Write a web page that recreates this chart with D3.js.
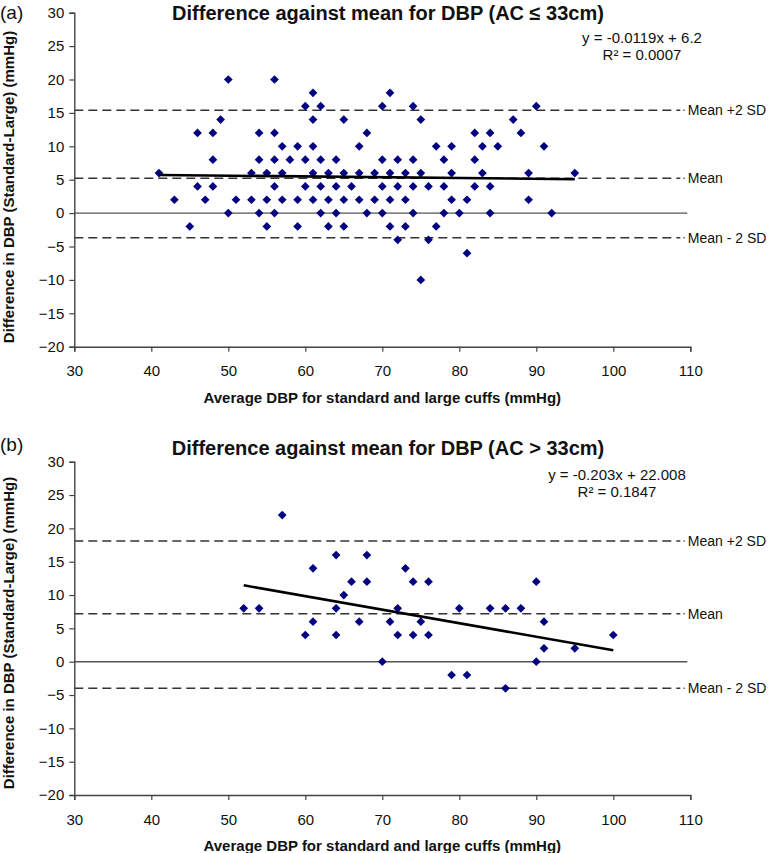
<!DOCTYPE html>
<html><head><meta charset="utf-8">
<script src="https://cdn.jsdelivr.net/npm/d3@7"></script>
<style>body{margin:0;background:#fff}svg{display:block}</style></head>
<body><svg id="c" width="768" height="853"></svg>
<script>
const xTicks = [30, 40, 50, 60, 70, 80, 90, 100, 110];
const yTicks = [-20, -15, -10, -5, 0, 5, 10, 15, 20, 25, 30];
const titles = ["Difference against mean for DBP (AC \u2264 33cm)", "Difference against mean for DBP (AC > 33cm)"];
const panelLabels = ["(a)", "(b)"];
const equations = ["y = -0.0119x + 6.2", "y = -0.203x + 22.008"];
const rSquared = ["R\u00b2 = 0.0007", "R\u00b2 = 0.1847"];
const slopes = [-0.0119, -0.203];
const intercepts = [6.2, 22.008];
const fitRanges = [[41, 95], [52, 100]];
const limitLabels = ["Mean +2 SD", "Mean", "Mean - 2 SD"];
const limitsA = [15.4, 5.2, -3.7];
const limitsB = [18.1, 7.2, -4.0];
const xTitle = "Average DBP for standard and large cuffs (mmHg)";
const yTitle = "Difference in DBP (Standard-Large) (mmHg)";

const pointsA = [
 [41,6],[43,2],[45,-2],[46,12],[46,4],[47,2],[48,12],[48,8],[48,4],[49,14],[50,20],[50,0],[51,2],[53,6],[53,2],[54,12],[54,8],[54,0],[55,6],[55,2],[55,-2],
 [56,20],[56,12],[56,8],[56,4],[56,0],
 [57,10],[57,6],[57,2],[58,8],[59,10],[59,2],[59,-2],
 [60,16],[60,8],[60,4],[61,18],[61,14],[61,10],[61,6],[61,2],
 [62,16],[62,8],[62,4],[62,0],[63,6],[63,2],[63,-2],
 [64,8],[64,4],[64,0],[65,14],[65,6],[65,2],[65,-2],[66,4],
 [67,10],[67,6],[67,2],[68,12],[68,0],[69,6],[69,2],
 [70,16],[70,8],[70,4],[70,0],[71,18],[71,6],[71,2],[71,-2],
 [72,8],[72,4],[72,-4],[73,6],[73,2],[73,-2],
 [74,16],[74,8],[74,4],[74,0],[75,14],[75,6],[75,-10],
 [76,4],[76,-4],[77,10],[77,-2],[78,8],[78,4],[78,0],
 [79,10],[79,6],[79,2],[80,0],[81,2],[81,-6],
 [82,12],[82,8],[82,4],[83,10],[83,6],[84,12],[84,4],[84,0],
 [85,10],[87,14],[88,12],[89,6],[89,2],[90,16],[91,10],[92,0],[95,6]
];
const pointsB = [
 [52,8],[54,8],[57,22],[60,4],[61,14],[61,6],[64,16],[64,8],[64,4],[65,10],[66,12],[67,6],[68,16],[68,12],
 [70,0],[71,6],[72,8],[72,4],[73,14],[74,12],[74,4],[75,6],[76,12],[76,4],
 [79,-2],[80,8],[81,-2],[84,8],[86,8],[86,-4],[88,8],[90,12],[90,0],[91,6],[91,2],[95,2],[100,4]
];

const svg = d3.select("#c");
const FONT = "'Liberation Sans', Arial, sans-serif";
const L = 74.3, R = 690.3;

const panels = [
  {top: 12.7, bottom: 346.7, pts: pointsA, limits: limitsA, titleY: 20, labelY: 19, eqX: 642, eqY: 43, yTitleY: 187},
  {top: 461.7, bottom: 795, pts: pointsB, limits: limitsB, titleY: 455, labelY: 451, eqX: 617, eqY: 480, yTitleY: 633}
];

panels.forEach((p, i) => {
  const x = d3.scaleLinear().domain([30, 110]).range([L, R]);
  const y = d3.scaleLinear().domain([-20, 30]).range([p.bottom, p.top]);
  const g = svg.append("g");

  // zero line
  g.append("line").attr("x1", L).attr("x2", R - 3).attr("y1", y(0)).attr("y2", y(0))
    .attr("stroke", "#555").attr("stroke-width", 1.4);

  // limit lines
  p.limits.forEach((v, k) => {
    g.append("line").attr("x1", L).attr("x2", R - 10).attr("y1", y(v)).attr("y2", y(v))
      .attr("stroke", "#333").attr("stroke-width", 1.5).attr("stroke-dasharray", "9,5");
    g.append("line").attr("x1", R - 7).attr("x2", R - 5.5).attr("y1", y(v)).attr("y2", y(v))
      .attr("stroke", "#666").attr("stroke-width", 1.5);
    g.append("text").attr("x", R - 2.5).attr("y", y(v)).attr("dy", "0.36em")
      .attr("font-family", FONT).attr("font-size", 14).attr("fill", "#111")
      .text(limitLabels[k]);
  });

  // axes
  const ya = g.append("g").attr("transform", `translate(${L},0)`)
    .call(d3.axisLeft(y).tickValues(yTicks).tickSize(5).tickPadding(5).tickFormat(d => d < 0 ? "\u2212" + Math.abs(d) : d));
  const xa = g.append("g").attr("transform", `translate(0,${p.bottom})`)
    .call(d3.axisBottom(x).tickValues(xTicks).tickSize(5).tickPadding(14));
  [ya, xa].forEach(a => {
    a.select(".domain").attr("stroke", "#444").attr("stroke-width", 1.4);
    a.selectAll(".tick line").attr("stroke", "#444").attr("stroke-width", 1.2);
    a.selectAll(".tick text").attr("font-family", FONT).attr("font-size", 15).attr("fill", "#111");
  });

  // points
  g.selectAll("path.pt").data(p.pts).join("path").attr("class", "pt")
    .attr("d", d3.symbol(d3.symbolSquare, 38))
    .attr("transform", d => `translate(${x(d[0])},${y(d[1])}) rotate(45)`)
    .attr("fill", "#000080");

  // regression line
  const fx = fitRanges[i];
  g.append("line")
    .attr("x1", x(fx[0])).attr("y1", y(slopes[i] * fx[0] + intercepts[i]))
    .attr("x2", x(fx[1])).attr("y2", y(slopes[i] * fx[1] + intercepts[i]))
    .attr("stroke", "#000").attr("stroke-width", 2.6);

  // texts
  g.append("text").attr("x", 388).attr("y", p.titleY).attr("text-anchor", "middle")
    .attr("font-family", FONT).attr("font-size", 20).attr("font-weight", "bold").attr("fill", "#111")
    .text(titles[i]);
  g.append("text").attr("x", 0).attr("y", p.labelY)
    .attr("font-family", FONT).attr("font-size", 19).attr("fill", "#111")
    .text(panelLabels[i]);
  g.append("text").attr("x", p.eqX).attr("y", p.eqY).attr("text-anchor", "middle")
    .attr("font-family", FONT).attr("font-size", 15).attr("fill", "#111").text(equations[i]);
  g.append("text").attr("x", p.eqX).attr("y", p.eqY + 17).attr("text-anchor", "middle")
    .attr("font-family", FONT).attr("font-size", 15).attr("fill", "#111").text(rSquared[i]);
  g.append("text").attr("x", (L + R) / 2).attr("y", p.bottom + 56).attr("text-anchor", "middle")
    .attr("font-family", FONT).attr("font-size", 15).attr("font-weight", "bold").attr("fill", "#111")
    .text(xTitle);
  g.append("text").attr("transform", `translate(14,${p.yTitleY}) rotate(-90)`).attr("text-anchor", "middle")
    .attr("font-family", FONT).attr("font-size", 15).attr("font-weight", "bold").attr("fill", "#111")
    .text(yTitle);
});
</script></body></html>
